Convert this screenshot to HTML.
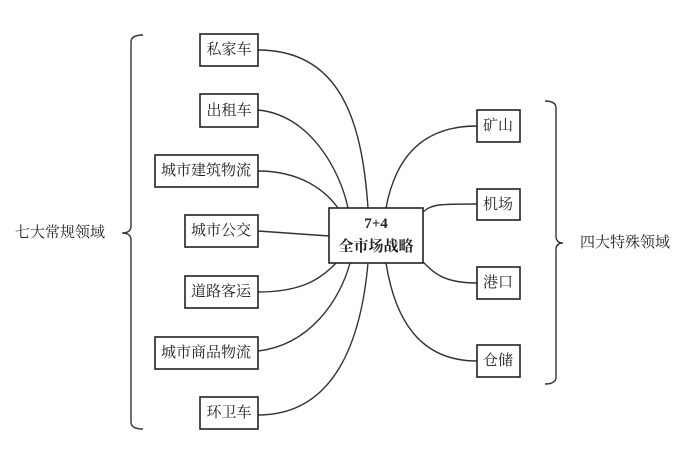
<!DOCTYPE html>
<html><head><meta charset="utf-8"><style>
body{margin:0;background:#fff;}
svg text{font-family:"Liberation Serif","Noto Serif CJK SC",serif;fill:#222;}
</style></head><body>
<svg width="688" height="470" xmlns="http://www.w3.org/2000/svg">
<g fill="none" stroke="#333" stroke-width="1.4">
<path d="M143,35 Q131,35 131,42 L131,226 Q131,233 122,233 Q131,233 131,240 L131,422 Q131,429 143,429"/>
<path d="M545,101 Q556,101 556,108 L556,236 Q556,243 563,243 Q556,243 556,250 L556,377 Q556,384 545,384"/>
<path d="M258,50 C340,50 362,120 368,208"/>
<path d="M258,110 C310,115 340,170 348,208"/>
<path d="M258,171 C300,171 325,190 338,208"/>
<path d="M258,231 L329,236"/>
<path d="M258,292 C300,292 320,280 336,263"/>
<path d="M258,351 C310,345 340,300 350,263"/>
<path d="M258,415 C340,415 362,330 368,263"/>
<path d="M477,126 C420,126 395,160 386,208"/>
<path d="M477,204 C440,204 432,204 423,212"/>
<path d="M477,283 C440,283 432,270 423,262"/>
<path d="M477,361 C420,361 395,320 386,263"/>
</g>
<g fill="#fff" stroke="#222" stroke-width="1.6">
<rect x="200" y="34" width="58" height="32"/>
<rect x="200" y="94" width="58" height="33"/>
<rect x="155" y="155" width="103" height="32"/>
<rect x="185" y="215" width="73" height="32"/>
<rect x="185" y="276" width="73" height="32"/>
<rect x="155" y="337" width="103" height="32"/>
<rect x="200" y="397" width="58" height="32"/>
<rect x="329" y="208" width="94" height="55"/>
<rect x="477" y="110" width="43" height="32"/>
<rect x="477" y="189" width="43" height="31"/>
<rect x="477" y="267" width="43" height="32"/>
<rect x="477" y="345" width="43" height="32"/>
</g>
<g font-size="15" text-anchor="middle" dominant-baseline="central">
<text x="229" y="50">私家车</text>
<text x="229" y="111">出租车</text>
<text x="206" y="171">城市建筑物流</text>
<text x="221" y="231">城市公交</text>
<text x="221" y="292">道路客运</text>
<text x="206" y="353">城市商品物流</text>
<text x="229" y="413">环卫车</text>
<text x="376" y="224" font-weight="bold">7+4</text>
<text x="376" y="247" font-weight="bold">全市场战略</text>
<text x="498" y="126">矿山</text>
<text x="498" y="205">机场</text>
<text x="498" y="283">港口</text>
<text x="498" y="361">仓储</text>
<text x="60" y="233">七大常规领域</text>
<text x="625" y="243">四大特殊领域</text>
</g>
</svg>
</body></html>
